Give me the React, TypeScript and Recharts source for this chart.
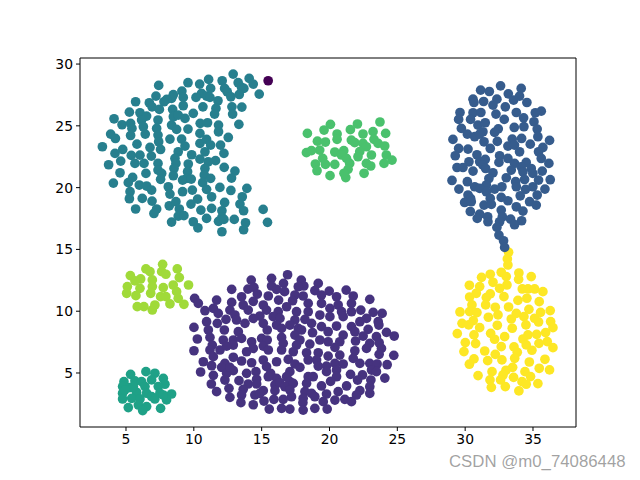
import { ReferenceLine, Scatter, ScatterChart, XAxis, YAxis } from 'recharts'

const xTicks = [5, 10, 15, 20, 25, 30, 35]
const yTicks = [5, 10, 15, 20, 25, 30]

const outlier = [[15.48, 28.65]]

const tealCluster = [
  [12.9, 29.19], [14.08, 28.84], [14.38, 28.38], [14.82, 27.57], [12.09, 28.65], [11.09, 28.76], [10.43, 28.38], [9.57, 28.49],
  [7.41, 28.27], [11.24, 28.03], [10.57, 27.62], [10.94, 27.41], [12.27, 28.03], [12.46, 27.76], [13.27, 28.49], [13.52, 28.11],
  [13.69, 28.03], [13.35, 27.54], [12.73, 27.35], [10.16, 27.3], [11.19, 27.3], [9.12, 27.81], [9.22, 27.3], [8.49, 27.52],
  [8.36, 27.22], [8.0, 27.14], [7.8, 26.95], [7.21, 27.41], [6.72, 26.87], [6.92, 26.54], [7.46, 26.33], [5.71, 26.95],
  [9.22, 26.63], [10.67, 26.54], [11.78, 27.03], [11.63, 26.41], [11.53, 25.95], [12.81, 26.54], [13.54, 26.52], [12.86, 25.95],
  [9.96, 26.01], [8.44, 26.33], [8.49, 25.74], [8.85, 25.87], [9.35, 25.6], [5.25, 26.11], [6.03, 26.06], [6.52, 25.79],
  [4.12, 25.57], [4.71, 25.09], [5.34, 25.2], [5.44, 24.79], [6.15, 25.47], [6.28, 24.93], [6.42, 24.33], [5.34, 24.22],
  [7.36, 25.47], [7.26, 24.79], [7.36, 24.25], [7.41, 23.71], [7.55, 23.09], [8.36, 25.06], [8.73, 24.71], [9.57, 24.74],
  [10.47, 25.2], [11.01, 25.25], [11.82, 25.06], [11.82, 24.52], [13.32, 25.12], [10.45, 24.39], [12.54, 24.06], [8.24, 23.93],
  [9.1, 23.93], [9.35, 23.36], [10.45, 23.58], [10.94, 23.9], [11.24, 23.44], [11.97, 23.44], [3.87, 24.33], [4.22, 23.98],
  [5.81, 23.52], [6.77, 23.25], [3.26, 23.31], [4.76, 23.09], [4.19, 22.77], [5.39, 22.61], [6.03, 22.63], [5.66, 21.96],
  [6.33, 21.96], [6.87, 22.55], [4.61, 22.15], [3.72, 21.85], [4.56, 21.2], [6.47, 21.15], [8.85, 22.9], [8.61, 22.36],
  [8.68, 21.96], [9.84, 22.66], [10.82, 22.9], [10.45, 22.31], [12.22, 22.77], [11.6, 22.18], [11.06, 22.09], [7.36, 21.96],
  [7.36, 21.42], [7.63, 21.15], [7.55, 20.67], [8.54, 21.55], [8.49, 20.96], [9.59, 21.91], [9.54, 21.29], [9.47, 20.75],
  [9.17, 20.61], [9.81, 20.69], [10.82, 21.55], [10.77, 21.02], [11.24, 20.75], [12.24, 21.64], [13.03, 21.34], [12.78, 20.77],
  [4.07, 20.37], [5.49, 20.83], [5.17, 20.4], [5.98, 20.21], [6.52, 20.13], [6.89, 19.8], [5.3, 19.67], [5.25, 19.1],
  [6.2, 19.13], [6.92, 18.91], [5.71, 18.27], [7.26, 18.27], [7.06, 17.91], [8.12, 20.07], [8.24, 19.48], [9.17, 19.67],
  [9.89, 19.8], [10.65, 20.4], [10.94, 19.86], [11.92, 20.02], [12.73, 19.77], [11.31, 19.26], [13.91, 19.94], [13.57, 19.26],
  [13.4, 18.67], [13.67, 18.13], [12.27, 18.8], [11.31, 18.32], [10.28, 19.07], [9.79, 18.67], [8.19, 18.53], [8.68, 18.86],
  [8.93, 18.27], [8.85, 17.7], [9.27, 17.73], [8.36, 17.21], [10.52, 18.18], [10.94, 17.51], [9.96, 17.24], [10.3, 16.75],
  [12.07, 18.13], [12.07, 17.59], [11.82, 17.27], [12.22, 17.43], [12.98, 17.43], [13.81, 17.16], [13.67, 16.59], [12.07, 16.43],
  [15.11, 18.24], [15.43, 17.19],
]

const purpleCluster = [
  [16.91, 12.95], [15.73, 12.66], [14.23, 12.52], [17.92, 12.52], [19.17, 12.25], [16.61, 12.25], [15.73, 12.04], [18.11, 12.04],
  [17.7, 11.98], [13.99, 11.79], [14.43, 11.93], [12.79, 11.77], [16.1, 11.77], [16.69, 11.58], [18.92, 11.66], [19.98, 11.63],
  [21.23, 11.71], [14.68, 11.39], [13.52, 11.17], [15.49, 11.23], [17.45, 11.31], [18.06, 11.23], [10.06, 11.04], [10.33, 10.63],
  [11.68, 10.9], [12.79, 10.71], [14.38, 10.8], [16.25, 10.9], [21.75, 11.23], [22.97, 10.96], [19.41, 11.31], [20.52, 11.17],
  [19.41, 10.63], [18.43, 10.63], [17.28, 10.85], [16.84, 10.36], [15.12, 10.5], [13.64, 10.5], [14.01, 10.09], [10.82, 10.04],
  [11.44, 10.23], [11.8, 9.82], [12.66, 10.09], [13.03, 9.69], [15.36, 10.09], [16.22, 9.96], [17.57, 9.96], [18.43, 9.96],
  [20.03, 10.23], [20.64, 10.5], [20.89, 9.96], [21.62, 10.63], [21.62, 9.96], [22.31, 10.09], [23.22, 9.91], [23.88, 9.82],
  [19.29, 9.69], [20.03, 9.56], [21.01, 9.56], [22.73, 9.42], [22.24, 9.15], [23.59, 9.15], [23.64, 8.88], [10.94, 9.15],
  [11.73, 9.02], [12.37, 9.34], [13.15, 9.29], [13.77, 9.02], [14.87, 9.61], [14.38, 9.42], [15.85, 9.56], [16.35, 9.42],
  [17.45, 9.29], [18.19, 9.34], [16.1, 8.88], [17.08, 8.88], [17.7, 8.61], [18.68, 9.02], [18.75, 8.26], [19.41, 8.75],
  [19.9, 8.34], [20.52, 8.8], [21.62, 8.75], [21.87, 8.34], [10.01, 8.69], [11.07, 8.48], [12.25, 8.48], [13.28, 8.34],
  [15.12, 9.02], [15.41, 8.48], [16.47, 8.61], [17.94, 8.48], [22.85, 8.53], [24.2, 8.29], [24.77, 7.99], [22.48, 7.99],
  [21.01, 8.07], [23.46, 7.94], [10.26, 7.75], [11.19, 7.88], [12.17, 7.67], [12.91, 7.67], [13.52, 7.8], [15.0, 7.8],
  [15.41, 7.67], [16.47, 7.88], [17.45, 8.07], [17.82, 7.67], [18.55, 7.34], [19.29, 7.67], [19.9, 7.53], [20.76, 7.53],
  [21.92, 7.59], [22.97, 7.4], [23.66, 7.45], [11.36, 7.26], [12.91, 7.26], [14.26, 7.53], [15.12, 7.18], [16.59, 7.4],
  [17.57, 7.26], [20.4, 7.07], [22.73, 6.99], [10.01, 6.8], [11.19, 6.86], [11.93, 6.86], [12.42, 7.18], [13.89, 6.72],
  [14.38, 6.99], [15.49, 6.86], [16.47, 6.86], [17.33, 6.72], [18.31, 6.64], [19.17, 6.64], [19.9, 6.37], [20.76, 6.45],
  [21.87, 6.8], [23.83, 6.99], [23.66, 6.51], [24.74, 6.43], [11.44, 6.32], [12.91, 6.27], [15.12, 6.05], [16.1, 5.91],
  [16.96, 6.1], [18.43, 6.05], [19.05, 6.05], [21.75, 6.18], [22.24, 5.78], [10.7, 5.91], [11.31, 5.59], [12.29, 5.78],
  [13.52, 5.97], [14.26, 5.83], [17.45, 5.73], [17.82, 5.46], [19.17, 5.56], [19.78, 5.56], [20.4, 5.78], [21.01, 5.73],
  [22.97, 5.78], [23.51, 5.73], [24.25, 5.67], [12.05, 5.46], [12.91, 5.19], [15.36, 5.51], [15.66, 4.97], [14.58, 5.11],
  [13.89, 4.97], [19.78, 5.11], [20.52, 5.24], [23.1, 5.24], [23.46, 5.11], [10.5, 5.08], [11.44, 4.81], [12.42, 4.97],
  [12.66, 5.46], [17.08, 5.11], [16.84, 4.7], [18.43, 4.7], [18.8, 4.7], [20.52, 4.7], [21.55, 4.89], [22.43, 4.84],
  [22.07, 4.43], [24.08, 4.59], [23.05, 4.43], [12.29, 4.43], [13.33, 4.38], [14.63, 4.49], [16.1, 4.57], [15.49, 4.7],
  [20.08, 4.32], [11.29, 4.11], [14.01, 4.11], [15.98, 4.03], [17.08, 4.3], [17.33, 4.16], [18.31, 4.16], [19.41, 3.95],
  [21.26, 3.95], [22.97, 3.89], [12.59, 3.76], [13.64, 3.68], [14.63, 4.11], [16.35, 4.21], [16.71, 3.89], [11.68, 3.49],
  [15.12, 3.57], [13.52, 3.22], [14.5, 3.22], [15.98, 3.57], [17.08, 3.62], [18.19, 3.49], [18.68, 3.35], [19.78, 3.3],
  [20.64, 3.49], [22.24, 3.57], [22.97, 3.35], [21.99, 3.22], [12.66, 3.03], [14.87, 3.35], [17.2, 3.08], [18.06, 2.95],
  [18.92, 3.08], [20.4, 2.81], [21.13, 2.87], [21.62, 2.68], [15.9, 2.87], [16.59, 2.87], [13.47, 2.6], [14.38, 2.43],
  [15.17, 2.73], [16.47, 2.14], [17.08, 2.08], [18.04, 2.6], [18.06, 2.0], [18.92, 2.14], [19.54, 2.68], [15.56, 2.08],
  [19.83, 2.08],
]

const navyCluster = [
  [32.61, 28.24], [34.13, 28.03], [31.14, 27.89], [31.78, 27.78], [33.18, 27.59], [34.01, 27.41], [32.34, 27.16], [30.58, 27.16],
  [30.65, 26.89], [31.36, 26.97], [33.57, 27.08], [34.55, 26.89], [32.05, 26.68], [32.96, 26.54], [29.62, 26.08], [30.58, 26.06],
  [31.16, 26.08], [32.27, 25.95], [33.77, 26.08], [35.61, 26.19], [35.17, 26.06], [29.52, 25.52], [30.4, 25.52], [32.88, 25.52],
  [34.31, 25.65], [35.07, 25.33], [30.94, 25.06], [31.48, 25.25], [34.33, 24.93], [33.62, 24.87], [32.44, 24.76], [35.31, 24.74],
  [29.72, 24.79], [31.31, 24.52], [32.17, 24.47], [30.16, 24.33], [30.7, 24.12], [31.07, 24.33], [35.36, 24.12], [29.1, 23.9],
  [31.39, 23.71], [32.37, 23.74], [33.47, 23.93], [34.16, 23.98], [36.22, 23.82], [34.8, 23.52], [33.15, 23.36], [33.64, 23.44],
  [29.52, 23.17], [30.21, 23.12], [31.85, 23.17], [34.01, 22.9], [35.73, 23.25], [35.41, 22.9], [29.27, 22.58], [30.87, 22.66],
  [32.54, 22.58], [33.15, 22.36], [35.61, 22.36], [32.49, 22.04], [30.28, 22.09], [31.07, 22.09], [31.48, 22.28], [34.5, 22.04],
  [33.64, 21.96], [36.17, 21.96], [31.31, 21.82], [29.4, 21.63], [29.84, 21.63], [31.51, 21.55], [33.4, 21.42], [34.13, 21.69],
  [34.87, 21.55], [30.58, 21.34], [32.05, 21.2], [35.68, 21.34], [34.26, 21.28], [34.99, 21.15], [31.75, 20.74], [33.03, 20.8],
  [34.38, 20.66], [29.03, 20.58], [30.16, 20.48], [31.56, 20.21], [33.72, 20.48], [35.41, 20.61], [36.27, 20.64], [33.77, 20.07],
  [30.7, 20.07], [31.07, 19.94], [29.54, 19.88], [32.17, 19.88], [32.71, 20.07], [34.99, 20.07], [34.45, 19.86], [35.88, 19.88],
  [31.56, 19.67], [30.21, 19.4], [34.06, 19.34], [35.31, 19.4], [31.85, 19.13], [32.66, 19.21], [33.15, 18.94], [30.4, 19.13],
  [29.96, 18.8], [30.45, 18.86], [31.39, 18.59], [31.93, 18.64], [34.75, 18.86], [35.24, 18.59], [33.77, 18.45], [32.66, 18.18],
  [30.38, 18.07], [34.26, 18.1], [31.07, 17.86], [30.89, 17.51], [31.66, 17.64], [31.68, 17.24], [32.74, 17.64], [33.35, 17.45],
  [34.16, 17.32], [33.64, 17.0], [32.54, 17.24], [32.34, 16.78], [32.49, 16.16], [32.83, 15.7], [32.91, 15.16],
]

const yellowCluster = [
  [33.2, 14.77], [33.11, 14.23], [33.15, 13.74], [32.66, 13.15], [33.03, 12.8], [31.85, 12.99], [31.21, 12.74], [33.96, 13.09],
  [33.94, 12.58], [34.87, 12.8], [32.05, 12.34], [33.08, 12.12], [30.31, 12.1], [31.07, 11.99], [32.54, 11.85], [30.82, 11.45],
  [34.21, 11.8], [34.63, 11.8], [35.12, 11.8], [35.73, 11.58], [31.85, 11.4], [31.56, 11.1], [30.33, 11.15], [32.86, 11.18],
  [33.89, 10.88], [34.55, 11.05], [35.46, 10.77], [31.51, 10.51], [30.5, 10.51], [32.22, 10.32], [33.2, 10.34], [34.7, 10.15],
  [29.62, 9.94], [30.33, 9.97], [30.87, 9.89], [32.42, 9.7], [33.77, 9.83], [35.56, 9.91], [36.27, 10.05], [31.71, 9.51],
  [34.33, 9.56], [33.4, 9.37], [35.12, 9.43], [35.41, 9.13], [30.6, 9.24], [29.77, 9.02], [30.26, 8.89], [31.07, 8.67],
  [32.37, 8.86], [34.48, 8.89], [36.3, 9.16], [36.47, 8.67], [33.47, 8.62], [29.42, 8.19], [30.65, 8.08], [31.88, 8.21],
  [32.17, 7.73], [32.91, 7.94], [34.63, 8.08], [35.27, 8.13], [35.93, 8.27], [34.26, 7.75], [34.5, 7.27], [35.44, 7.4],
  [36.05, 7.54], [30.01, 7.46], [30.77, 7.38], [32.66, 7.13], [33.6, 7.11], [36.47, 7.05], [34.92, 6.84], [29.91, 6.73],
  [31.44, 6.78], [32.22, 6.51], [33.84, 6.68], [33.65, 6.19], [30.65, 6.14], [30.31, 5.71], [31.66, 6.0], [32.71, 6.06],
  [34.73, 5.89], [35.88, 6.11], [33.5, 5.46], [35.46, 5.38], [36.22, 5.25], [33.01, 5.22], [31.98, 5.11], [34.41, 5.11],
  [30.95, 4.79], [32.79, 4.84], [33.57, 4.65], [34.82, 4.71], [31.83, 4.44], [32.61, 4.44], [34.19, 4.3], [34.5, 4.09],
  [35.36, 4.14], [31.93, 3.84], [32.96, 3.9], [33.96, 3.55],
]

const greenCluster = [
  [20.07, 25.12], [18.37, 24.39], [19.6, 24.66], [20.56, 24.34], [20.56, 23.91], [21.54, 24.69], [22.06, 25.15], [23.72, 25.31],
  [22.47, 24.34], [23.21, 24.53], [24.14, 24.39], [19.11, 23.76], [19.7, 23.69], [21.61, 23.85], [21.86, 23.64], [23.28, 23.91],
  [22.47, 23.58], [22.72, 23.31], [23.58, 23.58], [24.07, 23.37], [19.28, 23.04], [18.3, 22.83], [18.67, 22.99], [20.39, 22.88],
  [21.05, 22.99], [20.88, 22.64], [22.23, 22.91], [22.1, 22.5], [23.09, 22.64], [24.19, 22.64], [21.25, 22.37], [21.49, 21.96],
  [19.5, 22.37], [18.96, 21.91], [19.7, 21.88], [20.39, 21.88], [22.72, 21.96], [23.04, 21.75], [24.02, 21.96], [24.61, 22.23],
  [21.37, 21.48], [19.08, 21.37], [20.04, 20.97], [21.2, 20.81], [22.55, 21.16], [21.07, 21.16],
]

const limeCluster = [
  [5.32, 12.88], [6.47, 13.42], [6.77, 13.2], [7.7, 13.79], [7.63, 13.2], [8.78, 13.42], [7.94, 12.99], [6.08, 12.61],
  [6.94, 12.53], [8.93, 12.72], [5.66, 12.45], [5.1, 11.99], [5.05, 11.45], [6.03, 11.85], [6.94, 11.99], [7.75, 11.91],
  [8.48, 12.12], [9.61, 12.12], [5.73, 11.26], [6.82, 11.45], [7.55, 11.18], [8.73, 11.58], [7.94, 11.18], [8.85, 11.04],
  [8.24, 10.59], [9.27, 10.56], [5.83, 10.37], [6.32, 10.37], [6.94, 10.1], [7.13, 10.5],
]

const seaCluster = [
  [5.34, 4.89], [6.47, 5.11], [7.13, 4.98], [7.75, 4.57], [4.85, 4.3], [5.66, 4.36], [6.15, 4.3], [6.89, 4.44],
  [7.87, 4.09], [4.75, 3.9], [5.29, 3.82], [6.4, 3.9], [7.38, 3.9], [8.36, 3.3], [4.75, 3.36], [5.78, 3.44],
  [6.52, 3.36], [7.5, 3.36], [4.75, 2.9], [5.42, 2.95], [6.03, 2.9], [6.89, 3.09], [7.99, 2.82], [5.17, 2.2],
  [5.91, 2.41], [6.52, 2.28], [7.13, 2.9], [7.55, 2.14], [6.23, 1.96], [7.75, 3.22], [5.54, 3.9], [4.92, 3.63],
]

const series = [
  { name: 'outlier', color: '#440154', points: outlier },
  { name: 'purple', color: '#46337f', points: purpleCluster },
  { name: 'yellow', color: '#fde725', points: yellowCluster },
  { name: 'navy', color: '#365c8d', points: navyCluster },
  { name: 'teal', color: '#277f8e', points: tealCluster },
  { name: 'sea', color: '#1fa187', points: seaCluster },
  { name: 'green', color: '#4ac16d', points: greenCluster },
  { name: 'lime', color: '#a0da39', points: limeCluster },
]

const xMin = 1.61
const xMax = 38.17
const yMin = 0.63
const yMax = 30.49

const tickStyle = { fontFamily: 'DejaVu Sans', fontSize: 13.9, fill: '#000' }

// default symbol came out too small, matplotlib dots are about 9.7px across
const Dot = (props: any) => <circle cx={props.cx} cy={props.cy} r={4.85} fill={props.fill} />

export default function App() {
  return (
    <div style={{ position: 'absolute', left: 0, top: 0, width: 640, height: 480 }}>
      <ScatterChart width={640} height={480} margin={{ top: 58, right: 64, bottom: 23, left: 40 }}>
        <XAxis
          type="number"
          dataKey="x"
          domain={[xMin, xMax]}
          ticks={xTicks}
          height={30}
          stroke="#000"
          tick={tickStyle}
          tickSize={4}
          tickMargin={3}
          interval={0}
        />
        <YAxis
          type="number"
          dataKey="y"
          domain={[yMin, yMax]}
          ticks={yTicks}
          width={40}
          stroke="#000"
          tick={tickStyle}
          tickSize={4}
          tickMargin={3}
          interval={0}
        />
        <ReferenceLine x={xMax} stroke="#000" />
        <ReferenceLine y={yMax} stroke="#000" />
        {series.map((s) => (
          <Scatter
            key={s.name}
            name={s.name}
            data={s.points.map(([x, y]) => ({ x, y }))}
            fill={s.color}
            shape={Dot}
            isAnimationActive={false}
          />
        ))}
      </ScatterChart>
      <div
        style={{
          position: 'absolute',
          left: 449,
          top: 452,
          fontFamily: 'Liberation Sans',
          fontSize: 16.8,
          color: 'rgba(100,100,100,0.6)',
          whiteSpace: 'nowrap',
        }}
      >
        CSDN @m0_74086448
      </div>
    </div>
  )
}
